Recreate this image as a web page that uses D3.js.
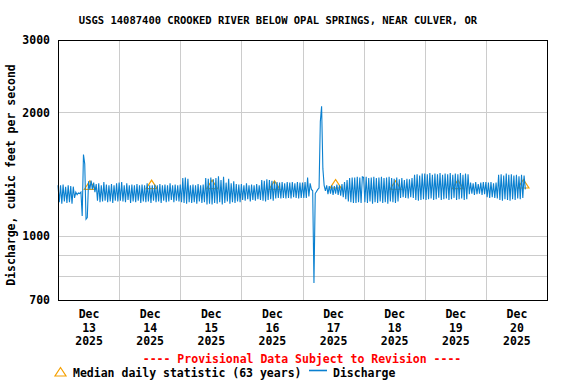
<!DOCTYPE html>
<html>
<head>
<meta charset="utf-8">
<script src="https://cdn.jsdelivr.net/npm/d3@7"></script>
<style>
  body { margin: 0; background: #fff; }
  text { font-family: "DejaVu Sans Mono", monospace; font-weight: bold; fill: #000; }
  .grid line { stroke: #cccccc; stroke-width: 1; shape-rendering: crispEdges; }
  .grid path { display: none; }
</style>
</head>
<body>
<script>
// discharge, cubic feet per second, every 30 minutes from 00:00 of each day
var dec13 = [1330,1210,1330,1200,1335,1215,1320,1205,1330,1210,1325,1200,
  1320,1240,1280,1262,1275,1270,1280,1120,1580,1500,1100,1110,
  1360,1300,1365,1300,1350,1280,1340,1220,1345,1210,1330,1215,
  1355,1220,1335,1210,1330,1215,1340,1205,1330,1220,1345,1215];
var dec14 = [1350,1220,1355,1215,1330,1210,1345,1225,1330,1205,1335,1215,
  1330,1210,1340,1220,1330,1205,1335,1215,1330,1210,1345,1215,
  1330,1205,1330,1220,1335,1210,1330,1215,1340,1205,1330,1220,
  1335,1210,1330,1215,1345,1225,1330,1210,1335,1220,1330,1215];
var dec15 = [1335,1210,1385,1205,1390,1200,1380,1210,1330,1205,1335,1210,
  1330,1200,1340,1215,1330,1205,1335,1210,1385,1195,1380,1200,
  1390,1195,1375,1205,1385,1200,1400,1210,1370,1195,1395,1205,
  1350,1215,1380,1200,1345,1210,1360,1205,1340,1215,1335,1210];
var dec16 = [1340,1225,1330,1220,1345,1230,1330,1215,1335,1225,1330,1220,
  1340,1230,1330,1225,1370,1220,1365,1215,1375,1225,1370,1230,
  1365,1220,1360,1235,1355,1240,1350,1235,1355,1240,1345,1235,
  1355,1240,1350,1235,1355,1245,1345,1240,1355,1235,1350,1240];
var dec17 = [1350,1240,1355,1240,1390,1250,1345,1300,1290,770,1270,1285,
  1300,1310,1900,2070,1460,1330,1290,1330,1265,1325,1270,1330,
  1260,1325,1270,1335,1260,1330,1255,1340,1245,1355,1230,1370,
  1215,1385,1210,1390,1205,1390,1205,1395,1210,1390,1205,1395];
var dec18 = [1390,1210,1395,1205,1385,1215,1390,1200,1395,1210,1385,1205,
  1390,1215,1395,1205,1385,1210,1390,1200,1395,1215,1385,1210,
  1380,1205,1390,1215,1375,1240,1385,1245,1370,1240,1380,1235,
  1375,1245,1385,1240,1410,1225,1415,1220,1405,1225,1420,1230];
var dec19 = [1420,1225,1415,1230,1425,1235,1410,1225,1420,1230,1415,1240,
  1425,1225,1410,1230,1420,1235,1415,1225,1425,1230,1410,1240,
  1420,1225,1415,1230,1425,1235,1410,1225,1420,1230,1415,1265,
  1350,1270,1345,1260,1355,1265,1340,1270,1350,1260,1355,1265];
var dec20 = [1355,1245,1350,1240,1355,1245,1345,1240,1350,1235,1410,1225,
  1415,1220,1405,1230,1420,1225,1410,1220,1415,1230,1405,1225,
  1410,1235,1400,1230,1410,1240,1405,1300];

var days = ["2025-12-13","2025-12-14","2025-12-15","2025-12-16",
            "2025-12-17","2025-12-18","2025-12-19","2025-12-20"];
var dayValues = [dec13, dec14, dec15, dec16, dec17, dec18, dec19, dec20];

// median daily statistic (63 years)
var medianTimes = ["2025-12-13T12:30","2025-12-14T12:45","2025-12-15T12:30","2025-12-16T13:00",
                   "2025-12-17T13:00","2025-12-18T12:30","2025-12-19T13:00","2025-12-20T14:45"];
var medianValues = [1330, 1335, 1335, 1330, 1340, 1330, 1335, 1340];

var yTicks = [700, 1000, 2000, 3000];
var yGrid = [800, 900, 1000, 2000];

var width = 576, height = 384;
var margin = {top: 40, right: 29, bottom: 84, left: 58};
var w = width - margin.left - margin.right,
    h = height - margin.top - margin.bottom;

var parseDay = d3.utcParse("%Y-%m-%d");
var parseTime = d3.utcParse("%Y-%m-%dT%H:%M");

var discharge = [];
days.forEach(function(day, i) {
  var start = parseDay(day);
  dayValues[i].forEach(function(v, j) {
    discharge.push({t: d3.utcMinute.offset(start, j * 30), v: v});
  });
});
var medians = medianTimes.map(function(t, i) {
  return {t: parseTime(t), v: medianValues[i]};
});

var x = d3.scaleUtc()
    .domain([parseDay("2025-12-13"), parseDay("2025-12-21")])
    .range([0, w]);
var y = d3.scaleLog()
    .domain([700, 3000])
    .range([h, 0]);

var svg = d3.select("body").append("svg")
    .attr("width", width)
    .attr("height", height);

svg.append("text")
    .attr("x", 278)
    .attr("y", 24)
    .attr("text-anchor", "middle")
    .style("font-size", "10.5px")
    .text("USGS 14087400 CROOKED RIVER BELOW OPAL SPRINGS, NEAR CULVER, OR");

var g = svg.append("g")
    .attr("transform", "translate(" + margin.left + "," + margin.top + ")");

// grid
g.append("g")
    .attr("class", "grid")
    .call(d3.axisLeft(y).tickValues(yGrid).tickSize(-w).tickFormat(""));
g.append("g")
    .attr("class", "grid")
    .attr("transform", "translate(0," + h + ")")
    .call(d3.axisBottom(x).ticks(d3.utcDay.every(1)).tickSize(-h).tickFormat(""));

// median triangles, drawn under the discharge line
function triangle(d) {
  var cx = x(d.t), cy = y(d.v);
  return "M" + cx + "," + (cy - 4.5) + "L" + (cx + 5.5) + "," + (cy + 4) +
         "L" + (cx - 5.5) + "," + (cy + 4) + "Z";
}
g.selectAll(".median")
    .data(medians)
  .enter().append("path")
    .attr("class", "median")
    .attr("d", triangle)
    .attr("fill", "none")
    .attr("stroke", "#f5a000")
    .attr("stroke-width", 1.2);

var line = d3.line()
    .x(function(d) { return x(d.t); })
    .y(function(d) { return y(d.v); });

g.append("path")
    .datum(discharge)
    .attr("d", line)
    .attr("fill", "none")
    .attr("stroke", "#0a80d0")
    .attr("stroke-width", 1.1);

// frame
g.append("rect")
    .attr("x", 0).attr("y", 0)
    .attr("width", w).attr("height", h)
    .attr("fill", "none")
    .attr("stroke", "#000")
    .attr("stroke-width", 1)
    .attr("shape-rendering", "crispEdges");

// y labels
var yAxis = g.append("g")
    .call(d3.axisLeft(y).tickValues(yTicks).tickSize(0).tickPadding(8)
      .tickFormat(d3.format("d")));
yAxis.select(".domain").remove();
yAxis.selectAll("text")
    .style("font-size", "11.5px")
    .style("font-family", "'DejaVu Sans Mono', monospace");

// x labels at noon of each day
var noons = days.map(function(d) { return d3.utcHour.offset(parseDay(d), 12); });
var fmtMon = d3.utcFormat("%b"), fmtDay = d3.utcFormat("%d"), fmtYear = d3.utcFormat("%Y");
var xAxis = g.append("g")
    .attr("transform", "translate(0," + h + ")")
    .call(d3.axisBottom(x).tickValues(noons).tickSize(0).tickFormat(""));
xAxis.select(".domain").remove();
xAxis.selectAll(".tick").each(function(d) {
  var t = d3.select(this).select("text")
      .attr("y", 18)
      .attr("dy", null)
      .style("font-size", "11.5px")
      .style("font-family", "'DejaVu Sans Mono', monospace");
  t.append("tspan").attr("x", 0).attr("dy", 0).text(fmtMon(d));
  t.append("tspan").attr("x", 0).attr("dy", 13.5).text(fmtDay(d));
  t.append("tspan").attr("x", 0).attr("dy", 13.5).text(fmtYear(d));
});

// y title
svg.append("text")
    .attr("transform", "translate(15,175) rotate(-90)")
    .attr("text-anchor", "middle")
    .style("font-size", "11.5px")
    .text("Discharge, cubic feet per second");

// provisional note
svg.append("text")
    .attr("x", 302)
    .attr("y", 363)
    .attr("text-anchor", "middle")
    .style("font-size", "11.5px")
    .style("fill", "#ff0000")
    .text("---- Provisional Data Subject to Revision ----");

// legend
svg.append("path")
    .attr("d", "M60.5,367.5L66,376L55,376Z")
    .attr("fill", "none")
    .attr("stroke", "#f5a000")
    .attr("stroke-width", 1.2);
svg.append("text")
    .attr("x", 73)
    .attr("y", 377)
    .style("font-size", "11.5px")
    .text("Median daily statistic (63 years)");
svg.append("line")
    .attr("x1", 309).attr("x2", 327)
    .attr("y1", 370.5).attr("y2", 370.5)
    .attr("stroke", "#0a80d0")
    .attr("stroke-width", 1.6);
svg.append("text")
    .attr("x", 333)
    .attr("y", 377)
    .style("font-size", "11.5px")
    .text("Discharge");
</script>
</body>
</html>
